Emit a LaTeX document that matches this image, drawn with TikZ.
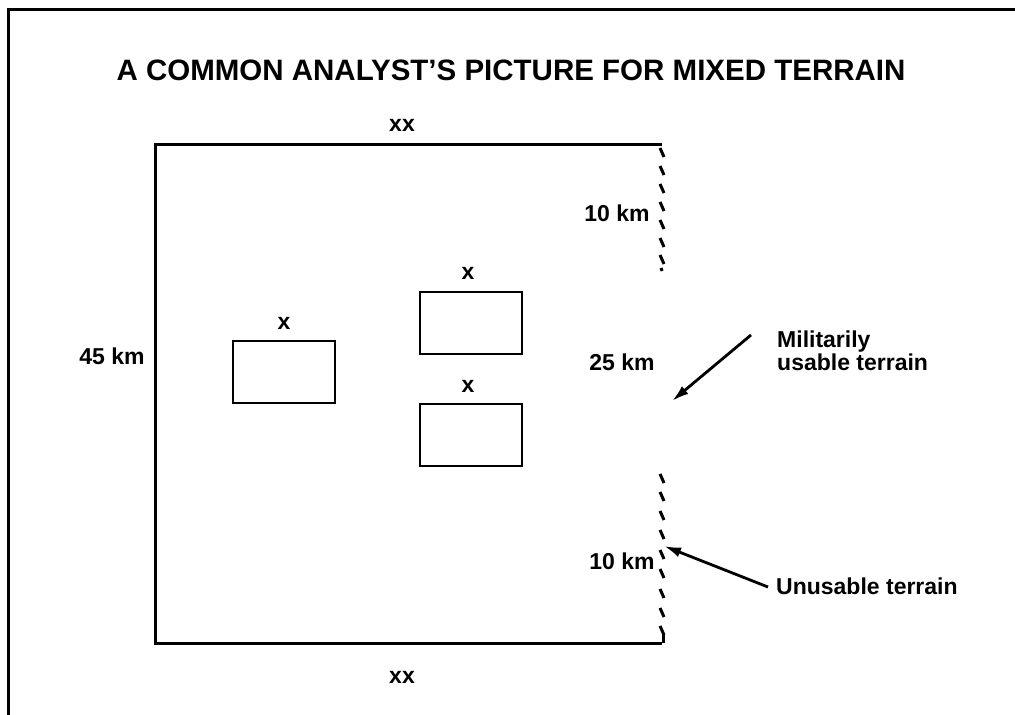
\documentclass[tikz,border=0pt]{standalone}
\usepackage{fontspec}
\setmainfont{Liberation Sans}
\usetikzlibrary{arrows.meta}
\begin{document}
\begin{tikzpicture}[x=1pt,y=-1pt,
  lbl/.style={font=\fontsize{23}{24}\selectfont\bfseries, inner sep=0pt},
  box/.style={draw, line width=2.4pt, minimum width=102pt, minimum height=62pt, inner sep=0pt},
  hatch/.style={line width=3pt},
  pointer/.style={line width=2.8pt, -{Latex[length=17pt,width=10pt]}}]
\useasboundingbox (0,0) rectangle (1015,715);
% frame
\draw[line width=3pt] (8,715) -- (8,9) -- (1015,9);
% title
\node[font=\fontsize{29.5}{32}\selectfont\bfseries, inner sep=0pt] (title) at (511,70) {A COMMON ANALYST'S PICTURE FOR MIXED TERRAIN};
% main area
\coordinate (tr) at (662,144);
\coordinate (br) at (662,643);
\draw[line width=3pt] (tr) -- (155,144) -- (155,643) -- (br);
% hatched right edge
\foreach \y in {148,166,184,202,220,238,255} {\draw[hatch] (660,\y) -- (664,\y+9);}
\draw[hatch] (661,268) -- (662,271);
\foreach \y in {474,492,511,530,550,569,589,608,626} {\draw[hatch] (660,\y) -- (664,\y+9);}
\draw[hatch] (663,634) -- (663,643);
% boxes
\node[box] (b1) at (284,372) {};
\node[box] (b2) at (471,323) {};
\node[box] (b3) at (471,435) {};
\node[lbl] (x1) at (284,323) {x};
\node[lbl] (x2) at (468,273) {x};
\node[lbl] (x3) at (468,386) {x};
% labels
\node[lbl] (xxt) at (402,125) {xx};
\node[lbl] (xxb) at (402,677) {xx};
\node[lbl] (h45) at (112,356) {45 km};
\node[lbl] (t10) at (617,213) {10 km};
\node[lbl] (m25) at (622,362) {25 km};
\node[lbl] (b10) at (622,561) {10 km};
\node[lbl, align=left, anchor=north west, font=\fontsize{23}{21}\selectfont\bfseries] (mil) at (777,331) {Militarily\\usable terrain};
\node[lbl, anchor=west] (unu) at (776,586) {Unusable terrain};
% pointers
\coordinate (milend) at (672,401);
\coordinate (unuend) at (664,546);
\coordinate (milstart) at (751,335);
\coordinate (unustart) at (768,587);
\draw[pointer] (milstart) -- (milend);
\draw[pointer] (unustart) -- (unuend);
\end{tikzpicture}
\end{document}
